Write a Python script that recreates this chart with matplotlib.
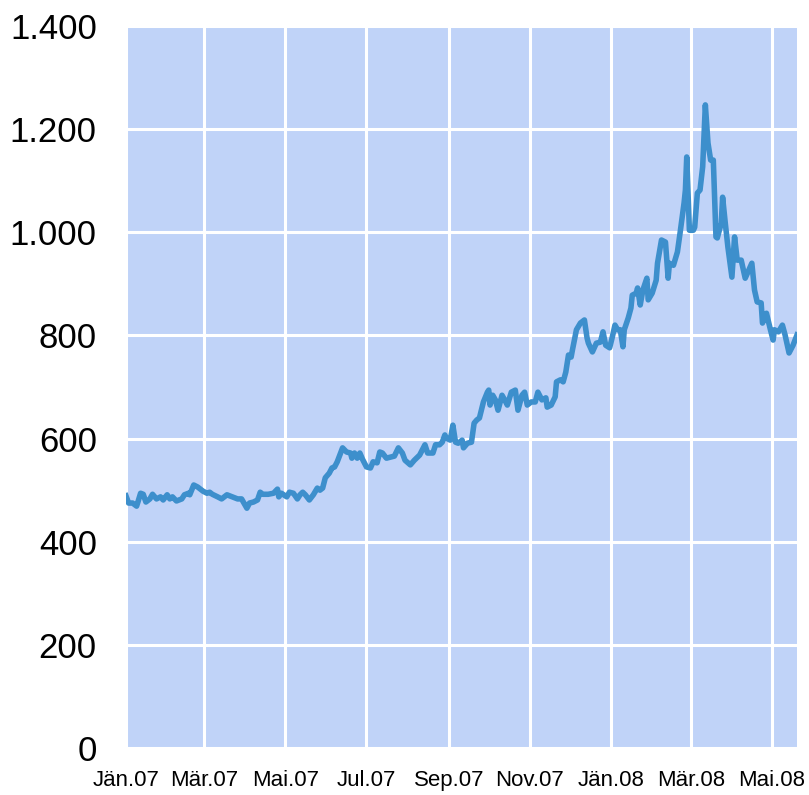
import datetime as dt
import matplotlib
matplotlib.use("Agg")
import matplotlib.pyplot as plt
import matplotlib.dates as mdates

# Data: days since 01.01.2007 and price
days = [0, 2, 5, 8, 9, 11, 13, 15, 18, 20, 23, 26, 28, 31, 33, 35, 38, 42, 44, 47,
        48, 51, 54, 58, 61, 63, 65, 69, 72, 76, 80, 84, 87, 91, 93, 96, 99, 101, 103, 107,
        111, 114, 115, 117, 121, 123, 126, 129, 131, 133, 135, 138, 141, 144, 146, 148, 150, 153, 155, 157,
        159, 163, 166, 169, 170, 172, 174, 176, 178, 181, 184, 186, 189, 191, 193, 196, 199, 202, 205, 208,
        210, 214, 217, 221, 225, 227, 231, 233, 236, 238, 240, 241, 244, 246, 248, 250, 253, 254, 257, 260,
        262, 264, 266, 269, 272, 273, 274, 276, 278, 280, 283, 285, 287, 290, 293, 295, 298, 300, 302, 305,
        308, 310, 313, 316, 317, 320, 323, 324, 327, 329, 331, 333, 335, 336, 339, 342, 345, 347, 348, 351,
        354, 357, 359, 361, 364, 366, 368, 370, 372, 374, 375, 378, 380, 381, 384, 385, 387, 389, 392, 393,
        396, 399, 400, 403, 406, 408, 409, 412, 415, 417, 420, 421, 422, 424, 427, 428, 430, 432, 434, 436,
        438, 440, 442, 444, 445, 448, 449, 451, 453, 456, 458, 460, 463, 466, 471, 473, 475, 478, 479, 482,
        485, 487, 488, 491, 494, 496, 499, 502, 505]
price = [489, 475, 475, 469, 477, 494, 492, 477, 483, 492, 483, 487, 481, 491, 483, 487, 479, 483, 491, 494,
         491, 510, 506, 498, 494, 496, 492, 487, 483, 491, 487, 483, 483, 465, 475, 477, 481, 496, 492, 492,
         494, 502, 487, 494, 487, 496, 494, 483, 491, 496, 491, 481, 491, 504, 500, 504, 524, 533, 543, 545,
         555, 582, 574, 572, 562, 572, 562, 572, 560, 545, 543, 555, 553, 574, 572, 562, 564, 566, 582, 572,
         558, 549, 558, 568, 588, 572, 572, 588, 588, 593, 607, 601, 597, 626, 593, 591, 597, 582, 591, 593,
         630, 636, 640, 671, 690, 694, 665, 684, 675, 655, 684, 675, 665, 690, 694, 655, 684, 690, 665, 671,
         671, 690, 675, 679, 661, 665, 681, 710, 714, 710, 729, 762, 758, 772, 811, 824, 830, 795, 785, 768,
         785, 787, 807, 781, 776, 797, 820, 811, 811, 778, 811, 834, 853, 878, 882, 892, 859, 888, 911, 869,
         882, 907, 940, 985, 981, 911, 940, 936, 962, 999, 1057, 1082, 1146, 1004, 1004, 1010, 1076, 1082, 1127, 1247,
         1173, 1140, 1140, 991, 989, 1018, 1068, 1018, 971, 913, 991, 946, 946, 911, 940, 888, 865, 863, 824, 843,
         811, 791, 811, 807, 820, 801, 766, 781, 801]

tick_dates = ["2007-01-01", "2007-03-01", "2007-05-01", "2007-07-01", "2007-09-01",
              "2007-11-01", "2008-01-01", "2008-03-01", "2008-05-01"]
tick_labels = ["Jän.07", "Mär.07", "Mai.07", "Jul.07", "Sep.07",
               "Nov.07", "Jän.08", "Mär.08", "Mai.08"]
y_ticks = [0, 200, 400, 600, 800, 1000, 1200, 1400]

start = dt.date(2007, 1, 1)
dates = [start + dt.timedelta(days=d) for d in days]

plt.rcParams["font.family"] = ["Liberation Sans", "DejaVu Sans"]

fig = plt.figure(figsize=(8.09, 7.95), dpi=100)
ax = fig.add_axes([0.1557, 0.0591, 0.8295, 0.9082])
ax.set_facecolor("#c0d3f8")

ax.plot(dates, price, color="#3d8fcc", linewidth=4.0, solid_joinstyle="round")

ax.set_xlim(dates[0], dates[-1])
ax.set_ylim(0, 1400)
ax.set_yticks(y_ticks)
ax.set_yticklabels([f"{v:,}".replace(",", ".") for v in y_ticks])
ax.set_xticks([mdates.datestr2num(d) for d in tick_dates])
ax.set_xticklabels(tick_labels)

ax.grid(True, color="white", linewidth=2.2)
ax.set_axisbelow(True)
for s in ax.spines.values():
    s.set_visible(False)
ax.tick_params(axis="y", length=0, pad=21, labelsize=25)
ax.tick_params(axis="x", length=0, pad=16, labelsize=16)

plt.savefig("out.png", dpi=100)
